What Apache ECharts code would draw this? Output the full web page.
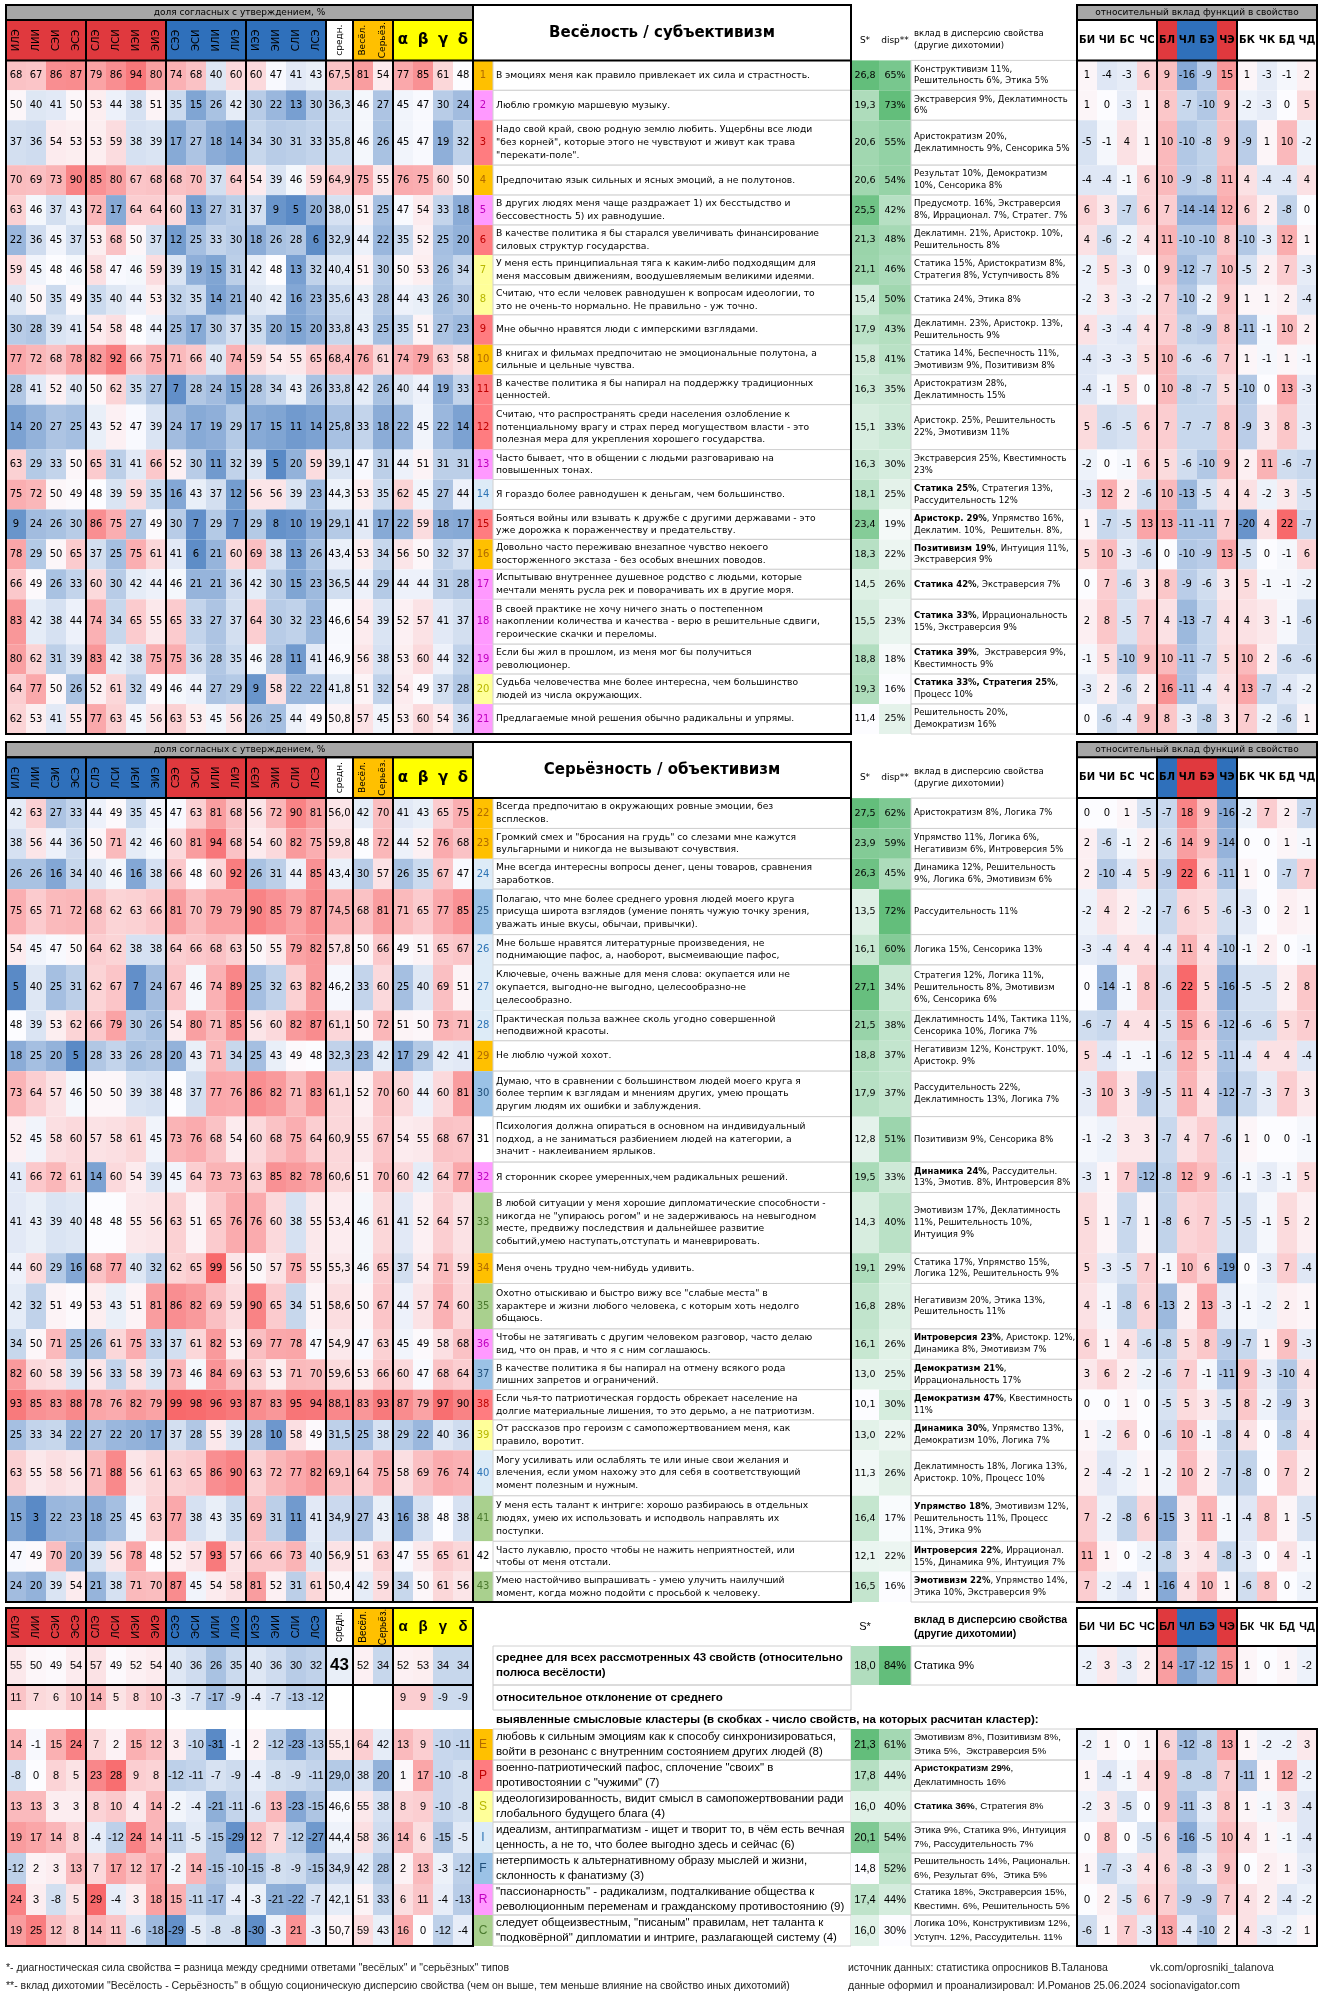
<!DOCTYPE html>
<html><head><meta charset="utf-8">
<script src="https://cdn.jsdelivr.net/npm/echarts@6/dist/echarts.min.js"></script>
<style>html,body{margin:0;background:#fff}#main{width:1321px;height:2001px}</style>
</head><body><div id="main"></div>
<script>
// ---- labels
const types = ['ИЛЭ','ЛИИ','СЭИ','ЭСЭ','СЛЭ','ЛСИ','ИЭИ','ЭИЭ','СЭЭ','ЭСИ','ИЛИ','ЛИЭ','ИЭЭ','ЭИИ','СЛИ','ЛСЭ'];
const funcs = ['БИ','ЧИ','БС','ЧС','БЛ','ЧЛ','БЭ','ЧЭ','БК','ЧК','БД','ЧД'];
const quadras = ['α','β','γ','δ'];

// ---- section 1: Весёлость / субъективизм (statements 1-21)
const sec1Types = [
 [68,67,86,87,79,86,94,80,74,68,40,60,60,47,41,43],
 [50,40,41,50,53,44,38,51,35,15,26,42,30,22,13,30],
 [37,36,54,53,53,59,38,39,17,27,18,14,34,30,31,33],
 [70,69,73,90,85,80,67,68,68,70,37,64,54,39,46,59],
 [63,46,37,43,72,17,64,64,60,13,27,31,37,9,5,20],
 [22,36,45,37,53,68,50,37,12,25,33,30,18,26,28,6],
 [59,45,48,46,58,47,46,59,39,19,15,31,42,48,13,32],
 [40,50,35,49,35,40,44,53,32,35,14,21,40,42,16,23],
 [30,28,39,41,54,58,48,44,25,17,30,37,35,20,15,20],
 [77,72,68,78,82,92,66,75,71,66,40,74,59,54,55,65],
 [28,41,52,40,50,62,35,27,7,28,24,15,28,34,43,26],
 [14,20,27,25,43,52,47,39,24,17,19,29,17,15,11,14],
 [63,29,33,50,65,31,41,66,52,30,11,32,39,5,20,59],
 [75,72,50,49,48,39,59,35,16,43,37,12,56,56,39,23],
 [9,24,26,30,86,75,27,49,30,7,29,7,29,8,10,19],
 [78,29,50,65,37,25,75,61,41,6,21,60,69,38,13,26],
 [66,49,26,33,60,30,42,44,46,21,21,36,42,30,15,23],
 [83,42,38,44,74,34,65,55,65,33,27,37,64,30,32,23],
 [80,62,31,39,83,42,38,75,75,36,28,35,46,28,11,41],
 [64,77,50,26,52,61,32,49,46,44,27,29,9,58,22,22],
 [62,53,41,55,77,63,45,56,63,53,45,56,26,25,44,49]];
const sec1Avg = [67.5,36.3,35.8,64.9,38.0,32.9,40.4,35.6,33.8,68.4,33.8,25.8,39.1,44.3,29.1,43.4,36.5,46.6,46.9,41.8,50.8];
const sec1Temp = [[81,54],[46,27],[46,26],[75,55],[51,25],[44,22],[51,30],[43,28],[43,25],[76,61],[42,26],[33,18],[47,31],[53,35],[41,17],[53,34],[44,29],[54,39],[56,38],[51,32],[57,45]];
const sec1Quadra = [[77,85,61,48],[45,47,30,24],[45,47,19,32],[76,75,60,50],[47,54,33,18],[35,52,25,20],[50,53,26,34],[44,43,26,30],[35,51,27,23],[74,79,63,58],[40,44,19,33],[22,45,22,14],[44,51,31,31],[62,45,27,44],[22,59,18,17],[56,50,32,37],[44,44,31,28],[52,57,41,37],[53,60,44,32],[54,49,37,28],[53,60,54,36]];
const sec1Cluster = ['E','R','P','E','R','P','S','S','P','E','P','P','R','I','P','E','R','R','R','S','R'];
const sec1Text = [
 'В эмоциях меня как правило привлекает их сила и страстность.',
 'Люблю громкую маршевую музыку.',
 'Надо свой край, свою родную землю любить. Ущербны все люди\n"без корней", которые этого не чувствуют и живут как трава\n"перекати-поле".',
 'Предпочитаю язык сильных и ясных эмоций, а не полутонов.',
 'В других людях меня чаще раздражает 1) их бесстыдство и\nбессовестность 5) их равнодушие.',
 'В качестве политика я бы старался увеличивать финансирование\nсиловых структур государства.',
 'У меня есть принципиальная тяга к каким-либо подходящим для\nменя массовым движениям, воодушевляемым великими идеями.',
 'Считаю, что если человек равнодушен к вопросам идеологии, то\nэто не очень-то нормально. Не правильно - уж точно.',
 'Мне обычно нравятся люди с имперскими взглядами.',
 'В книгах и фильмах предпочитаю не эмоциональные полутона, а\nсильные и цельные чувства.',
 'В качестве политика я бы напирал на поддержку традиционных\nценностей.',
 'Считаю, что распространять среди населения озлобление к\nпотенциальному врагу и страх перед могуществом власти - это\nполезная мера для укрепления хорошего государства.',
 'Часто бывает, что в общении с людьми разговариваю на\nповышенных тонах.',
 'Я гораздо более равнодушен к деньгам, чем большинство.',
 'Бояться войны или взывать к дружбе с другими державами - это\nуже дорожка к пораженчеству и предательству.',
 'Довольно часто переживаю внезапное чувство некоего\nвосторженного экстаза - без особых внешних поводов.',
 'Испытываю внутреннее душевное родство с людьми, которые\nмечтали менять русла рек и поворачивать их в другие моря.',
 'В своей практике не хочу ничего знать о постепенном\nнакоплении количества и качества - верю в решительные сдвиги,\nгероические скачки и переломы.',
 'Если бы жил в прошлом, из меня мог бы получиться\nреволюционер.',
 'Судьба человечества мне более интересна, чем большинство\nлюдей из числа окружающих.',
 'Предлагаемые мной решения обычно радикальны и упрямы.'];
const sec1S = [26.8,19.3,20.6,20.6,25.5,21.3,21.1,15.4,17.9,15.8,16.3,15.1,16.3,18.1,23.4,18.3,14.5,15.5,18.8,19.3,11.4];
const sec1Disp = [65,73,55,54,42,48,46,50,43,41,35,33,30,25,19,22,26,23,18,16,25];
const sec1Contrib = [
 'Конструктивизм 11%,\nРешительность 6%, Этика 5%',
 'Экстраверсия 9%, Деклатимность\n6%',
 'Аристократизм 20%,\nДеклатимность 9%, Сенсорика 5%',
 'Результат 10%, Демократизм\n10%, Сенсорика 8%',
 'Предусмотр. 16%, Экстраверсия\n8%, Иррационал. 7%, Стратег. 7%',
 'Деклатимн. 21%, Аристокр. 10%,\nРешительность 8%',
 'Статика 15%, Аристократизм 8%,\nСтратегия 8%, Уступчивость 8%',
 'Статика 24%, Этика 8%',
 'Деклатимн. 23%, Аристокр. 13%,\nРешительность 9%',
 'Статика 14%, Беспечность 11%,\nЭмотивизм 9%, Позитивизм 8%',
 'Аристократизм 28%,\nДеклатимность 15%',
 'Аристокр. 25%, Решительность\n22%, Эмотивизм 11%',
 'Экстраверсия 25%, Квестимность\n23%',
 '**Статика 25%**, Стратегия 13%,\nРассудительность 12%',
 '**Аристокр. 29%**, Упрямство 16%,\nДеклатим. 10%,  Решительн. 8%,',
 '**Позитивизм 19%**, Интуиция 11%,\nЭкстраверсия 9%',
 '**Статика 42%**, Экстраверсия 7%',
 '**Статика 33%**, Иррациональность\n15%, Экстраверсия 9%',
 '**Статика 39%**,  Экстраверсия 9%,\nКвестимность 9%',
 '**Статика 33%, Стратегия 25%**,\nПроцесс 10%',
 'Решительность 20%,\nДемократизм 16%'];
const sec1Func = [
 [1,-4,-3,6,9,-16,-9,15,1,-3,-1,2],[1,0,-3,1,8,-7,-10,9,-2,-3,0,5],[-5,-1,4,1,10,-10,-8,9,-9,1,10,-2],
 [-4,-4,-1,6,10,-9,-8,11,4,-4,-4,4],[6,3,-7,6,7,-14,-14,12,6,2,-8,0],[4,-6,-2,4,11,-10,-10,8,-10,-3,12,1],
 [-2,5,-3,0,9,-12,-7,10,-5,2,7,-3],[-2,3,-3,-2,7,-10,-2,9,1,1,2,-4],[4,-3,-4,4,7,-8,-9,8,-11,-1,10,2],
 [-4,-3,-3,5,10,-6,-6,7,1,-1,1,-1],[-4,-1,5,0,10,-8,-7,5,-10,0,13,-3],[5,-6,-5,6,7,-7,-7,8,-9,3,8,-3],
 [-2,0,-1,6,5,-6,-10,9,2,11,-6,-7],[-3,12,2,-6,10,-13,-5,4,4,-2,3,-5],[1,-7,-5,13,13,-11,-11,7,-20,4,22,-7],
 [5,10,-3,-6,0,-10,-9,13,-5,0,-1,6],[0,7,-6,3,8,-9,-6,3,5,-1,-1,-2],[2,8,-5,7,4,-13,-7,4,4,3,-1,-6],
 [-1,5,-10,9,10,-11,-7,5,10,2,-6,-6],[-3,2,-6,2,16,-11,-4,4,13,-7,-4,-2],[0,-6,-4,9,8,-3,-8,3,7,-2,-6,1]];

// ---- section 2: Серьёзность / объективизм (statements 22-43)
const sec2Types = [
 [42,63,27,33,44,49,35,45,47,63,81,68,56,72,90,81],
 [38,56,44,36,50,71,42,46,60,81,94,68,54,60,82,75],
 [26,26,16,34,40,46,16,38,66,48,60,92,26,31,44,85],
 [75,65,71,72,68,62,63,66,81,70,79,79,90,85,79,87],
 [54,45,47,50,64,62,38,38,64,66,68,63,50,55,79,82],
 [5,40,25,31,62,67,7,24,67,46,74,89,25,32,63,82],
 [48,39,53,62,66,79,30,26,54,80,71,85,56,60,82,87],
 [18,25,20,5,28,33,26,28,20,43,71,34,25,43,49,48],
 [73,64,57,46,50,50,39,38,48,37,77,76,86,82,71,83],
 [52,45,58,60,57,58,61,45,73,76,68,54,60,68,75,64],
 [41,66,72,61,14,60,54,39,45,64,73,73,63,85,82,78],
 [41,43,39,40,48,48,55,56,63,51,65,76,76,60,38,55],
 [44,60,29,16,68,77,40,32,62,65,99,56,50,57,75,55],
 [42,32,51,49,53,43,51,81,86,82,69,59,90,65,34,51],
 [34,50,71,25,26,61,75,33,37,61,82,53,69,77,78,47],
 [82,60,58,39,56,33,58,39,73,46,84,69,63,53,71,70],
 [93,85,83,88,78,76,82,79,99,98,96,93,87,83,95,94],
 [25,33,34,22,27,22,20,17,37,28,55,39,28,10,58,49],
 [63,55,58,56,71,88,56,61,63,65,86,90,63,72,77,82],
 [15,3,22,23,18,25,45,63,77,38,43,35,69,31,11,41],
 [47,49,70,20,39,56,78,48,52,57,93,57,66,66,73,40],
 [24,20,39,54,21,38,71,70,87,45,54,58,81,52,31,61]];
const sec2Avg = [56.0,59.8,43.4,74.5,57.8,46.2,61.1,32.3,61.1,60.9,60.6,53.4,55.3,58.6,54.9,59.6,88.1,31.5,69.1,34.9,56.9,50.4];
const sec2Temp = [[42,70],[48,72],[30,57],[68,81],[50,66],[33,60],[50,72],[23,42],[52,70],[55,67],[51,70],[46,61],[46,65],[50,67],[47,63],[53,66],[83,93],[25,38],[64,75],[27,43],[51,63],[42,59]];
const sec2Quadra = [[41,43,65,75],[44,52,76,68],[26,35,67,47],[71,65,77,85],[49,51,65,67],[25,40,69,51],[51,50,73,71],[17,29,42,41],[60,44,60,81],[54,55,68,67],[60,42,64,77],[41,52,64,57],[37,54,71,59],[44,57,74,60],[45,49,58,68],[60,47,68,64],[87,79,97,90],[29,22,40,36],[58,69,76,74],[16,38,48,38],[47,55,65,61],[34,50,61,56]];
const sec2Cluster = ['E','E','I','F','I','I','I','E','F','','R','C','E','C','R','F','P','S','I','C','','C'];
const sec2Text = [
 'Всегда предпочитаю в окружающих ровные эмоции, без\nвсплесков.',
 'Громкий смех и "бросания на грудь" со слезами мне кажутся\nвульгарными и никогда не вызывают сочувствия.',
 'Мне всегда интересны вопросы денег, цены товаров, сравнения\nзаработков.',
 'Полагаю, что мне более среднего уровня людей моего круга\nприсуща широта взглядов (умение понять чужую точку зрения,\nуважать иные вкусы, обычаи, привычки).',
 'Мне больше нравятся литературные произведения, не\nподнимающие пафос, а, наоборот, высмеивающие пафос,',
 'Ключевые, очень важные для меня слова: окупается или не\nокупается, выгодно-не выгодно, целесообразно-не\nцелесообразно.',
 'Практическая польза важнее сколь угодно совершенной\nнеподвижной красоты.',
 'Не люблю чужой хохот.',
 'Думаю, что в сравнении с большинством людей моего круга я\nболее терпим к взглядам и мнениям других, умею прощать\nдругим людям их ошибки и заблуждения.',
 'Психология должна опираться в основном на индивидуальный\nподход, а не заниматься разбиением людей на категории, а\nзначит - наклеиванием ярлыков.',
 'Я сторонник скорее умеренных,чем радикальных решений.',
 'В любой ситуации у меня хорошие дипломатические способности -\nникогда не "упираюсь рогом" и не задерживаюсь на невыгодном\nместе, предвижу последствия и дальнейшее развитие\nсобытий,умею наступать,отступать и маневрировать.',
 'Меня очень трудно чем-нибудь удивить.',
 'Охотно отыскиваю и быстро вижу все "слабые места" в\nхарактере и жизни любого человека, с которым хоть недолго\nобщаюсь.',
 'Чтобы не затягивать с другим человеком разговор, часто делаю\nвид, что он прав, и что я с ним соглашаюсь.',
 'В качестве политика я бы напирал на отмену всякого рода\nлишних запретов и ограничений.',
 'Если чья-то патриотическая гордость обрекает население на\nдолгие материальные лишения, то это дерьмо, а не патриотизм.',
 'От рассказов про героизм с самопожертвованием меня, как\nправило, воротит.',
 'Могу усиливать или ослаблять те или иные свои желания и\nвлечения, если умом нахожу это для себя в соответствующий\nмомент полезным и нужным.',
 'У меня есть талант к интриге: хорошо разбираюсь в отдельных\nлюдях, умею их использовать и исподволь направлять их\nпоступки.',
 'Часто лукавлю, просто чтобы не нажить неприятностей, или\nчтобы от меня отстали.',
 'Умею настойчиво выпрашивать - умею улучить наилучший\nмомент, когда можно подойти с просьбой к человеку.'];
const sec2S = [27.5,23.9,26.3,13.5,16.1,27.1,21.5,18.8,17.9,12.8,19.5,14.3,19.1,16.8,16.1,13.0,10.1,13.0,11.3,16.4,12.1,16.5];
const sec2Disp = [62,59,45,72,60,34,38,37,37,51,33,40,29,28,26,25,30,22,26,17,22,16];
const sec2Contrib = [
 'Аристократизм 8%, Логика 7%',
 'Упрямство 11%, Логика 6%,\nНегативизм 6%, Интроверсия 5%',
 'Динамика 12%, Решительность\n9%, Логика 6%, Эмотивизм 6%',
 'Рассудительность 11%',
 'Логика 15%, Сенсорика 13%',
 'Стратегия 12%, Логика 11%,\nРешительность 8%, Эмотивизм\n6%, Сенсорика 6%',
 'Деклатимность 14%, Тактика 11%,\nСенсорика 10%, Логика 7%',
 'Негативизм 12%, Конструкт. 10%,\nАристокр. 9%',
 'Рассудительность 22%,\nДеклатимность 13%, Логика 7%',
 'Позитивизм 9%, Сенсорика 8%',
 '**Динамика 24%**, Рассудительн.\n13%, Эмотив. 8%, Интроверсия 8%',
 'Эмотивизм 17%, Деклатимность\n11%, Решительность 10%,\nИнтуиция 9%',
 'Статика 17%, Упрямство 15%,\nЛогика 12%, Решительность 9%',
 'Негативизм 20%, Этика 13%,\nРешительность 11%',
 '**Интроверсия 23%**, Аристокр. 12%,\nДинамика 8%, Эмотивизм 7%',
 '**Демократизм 21%**,\nИррациональность 17%',
 '**Демократизм 47%**, Квестимность\n11%',
 '**Динамика 30%**, Упрямство 13%,\nДемократизм 10%, Логика 7%',
 'Деклатимность 18%, Логика 13%,\nАристокр. 10%, Процесс 10%',
 '**Упрямство 18%**, Эмотивизм 12%,\nРешительность 11%, Процесс\n11%, Этика 9%',
 '**Интроверсия 22%**, Иррационал.\n15%, Динамика 9%, Интуиция 7%',
 '**Эмотивизм 22%**, Упрямство 14%,\nЭтика 10%, Экстраверсия 9%'];
const sec2Func = [
 [0,0,1,-5,-7,18,9,-16,-2,7,2,-7],[2,-6,-1,2,-6,14,9,-14,0,0,1,-1],[2,-10,-4,5,-9,22,6,-11,1,0,-7,7],
 [-2,4,2,-2,-7,6,5,-6,-3,0,2,1],[-3,-4,4,4,-4,11,4,-10,-1,2,0,-1],[0,-14,-1,8,-6,22,5,-16,-5,-5,2,8],
 [-6,-7,4,4,-5,15,6,-12,-6,-6,5,7],[5,-4,-1,-1,-6,12,5,-11,-4,4,4,-4],[-3,10,3,-9,-5,11,4,-12,-7,-3,7,3],
 [-1,-2,3,3,-7,4,7,-6,1,0,0,-1],[-3,1,7,-12,-8,12,9,-6,-1,-3,-1,5],[5,1,-7,1,-8,6,7,-5,-5,-1,5,2],
 [5,-3,-5,7,-1,10,6,-19,0,-3,7,-4],[4,-1,-8,6,-13,2,13,-3,-1,-2,2,1],[6,1,4,-6,-8,5,8,-9,-7,1,9,-3],
 [3,6,2,-2,-6,7,-1,-11,9,-3,-10,4],[0,0,1,0,-5,5,3,-5,8,-2,-9,3],[1,-2,6,0,-6,10,-1,-8,4,0,-8,4],
 [2,-4,-2,1,-2,10,2,-7,-8,0,7,2],[7,-2,-8,6,-15,3,11,-1,-4,8,1,-5],[11,1,0,-2,-8,3,4,-8,-3,0,4,-1],
 [7,-2,-4,1,-16,4,10,1,-6,8,0,-2]];

// ---- summary
const meanTypes = [55,50,49,54,57,49,52,54,40,36,26,35,40,36,30,32];
const meanAvg = 43;
const meanTemp = [52,34];
const meanQuadra = [52,53,34,34];
const meanS = 18.0, meanDisp = 84, meanContrib = 'Статика 9%';
const meanFunc = [-2,3,-3,2,14,-17,-12,15,1,0,1,-2];
const devTypes = [11,7,6,10,14,5,8,10,-3,-7,-17,-9,-4,-7,-13,-12];
const devQuadra = [9,9,-9,-9];

const clLetters = ['E','P','S','I','F','R','C'];
const clText = [
 'любовь к сильным эмоциям как к способу синхронизироваться,\nвойти в резонанс с внутренним состоянием других людей (8)',
 'военно-патриотический пафос, сплочение "своих" в\nпротивостоянии с "чужими" (7)',
 'идеологизированность, видит смысл в самопожертвовании ради\nглобального будущего блага (4)',
 'идеализм, антипрагматизм - ищет и творит то, в чём есть вечная\nценность, а не то, что более выгодно здесь и сейчас (6)',
 'нетерпимость к альтернативному образу мыслей и жизни,\nсклонность к фанатизму (3)',
 '"пассионарность" - радикализм, подталкивание общества к\nреволюционным переменам и гражданскому противостоянию (9)',
 'следует общеизвестным, "писаным" правилам, нет таланта к\n"подковёрной" дипломатии и интриге, разлагающей систему (4)'];
const clTypes = [
 [14,-1,15,24,7,2,15,12,3,-10,-31,-1,2,-12,-23,-13],
 [-8,0,8,5,23,28,9,8,-12,-11,-7,-9,-4,-8,-9,-11],
 [13,13,3,3,8,10,4,14,-2,-4,-21,-11,-6,13,-23,-15],
 [19,17,14,8,-4,-12,24,14,-11,-5,-15,-29,12,7,-12,-27],
 [-12,2,3,13,7,17,12,17,-2,14,-15,-10,-15,-8,-9,-15],
 [24,3,-8,5,29,-4,3,18,15,-11,-17,-4,-3,-21,-22,-7],
 [19,25,12,8,14,11,-6,-18,-29,-5,-8,-8,-30,-3,21,-3]];
const clAvg = [55.1,29.0,46.6,44.4,34.9,42.1,50.7];
const clTemp = [[64,42],[38,20],[55,38],[58,36],[42,28],[51,33],[59,43]];
const clQuadra = [[13,9,-10,-11],[1,17,-10,-8],[8,9,-10,-8],[14,6,-15,-5],[2,13,-3,-12],[6,11,-4,-13],[16,0,-12,-4]];
const clS = [21.3,17.8,16.0,20.1,14.8,17.4,16.0];
const clDisp = [61,44,40,54,52,44,30];
const clContrib = [
 'Эмотивизм 8%, Позитивизм 8%,\nЭтика 5%,  Экстраверсия 5%',
 '**Аристократизм 29%**,\nДеклатимность 16%',
 '**Статика 36%**, Стратегия 8%',
 'Этика 9%, Статика 9%, Интуиция\n7%, Рассудительность 7%',
 'Решительность 14%, Рациональн.\n6%, Результат 6%,  Этика 5%',
 'Статика 18%, Экстраверсия 15%,\nКвестимн. 6%, Решительность 5%',
 'Логика 10%, Конструктивизм 12%,\nУступч. 12%, Рассудительн. 11%'];
const clFunc = [
 [-2,1,0,1,6,-12,-8,13,1,-2,-2,3],[1,-4,-1,4,9,-8,-8,7,-11,1,12,-2],[-2,3,-5,0,9,-11,-3,8,1,-1,3,-4],
 [0,8,0,-5,6,-16,-5,10,4,1,-1,-4],[1,-7,-3,4,6,-8,-3,9,0,2,1,-3],[0,2,-5,6,7,-9,-9,7,4,2,-4,-2],
 [-6,1,7,-3,13,-4,-10,2,4,-3,-2,1]];

// ---- styles
const FONT = '"DejaVu Sans", Verdana, sans-serif';
const NARROW = '"Liberation Sans Narrow", "Liberation Sans", Arial, sans-serif';
const H_RED = '#e0393e', H_BLUE = '#2f70bb', H_ORANGE = '#ffc000', H_YELLOW = '#ffff00', BAND = '#a6a6a6';
const C_BLUE = '#5a8ac6', C_WHITE = '#fcfcff', C_RED = '#f8696b', C_GREEN = '#63be7b';
const clFill = {E:'#ffc000',P:'#ff7c80',S:'#ffff99',I:'#ddebf7',F:'#9bc2e6',R:'#ff99ff',C:'#a9d08e','':'#ffffff'};
const clInk = {E:'#b06a00',P:'#c00000',S:'#b8b800',I:'#2e75b6',F:'#1f4e79',R:'#c000c0',C:'#4b7a2e','':'#000'};

const colW = [].concat(Array(16).fill(20), [27,20,20,20,20,20,20,20,358,28,32,166], Array(12).fill(20));
const colX = [0]; colW.forEach(w => colX.push(colX[colX.length-1] + w));
const TOTAL_X = colX[colX.length-1];

function rgb(h){return [1,3,5].map(i=>parseInt(h.substr(i,2),16));}
function mix(a,b,t){const A=rgb(a),B=rgb(b);return 'rgb('+A.map((v,i)=>Math.round(v+(B[i]-v)*t)).join(',')+')';}
function div(v,lo,mid,hi){return v<mid?mix(C_WHITE,C_BLUE,Math.min(1,(mid-v)/(mid-lo))):mix(C_WHITE,C_RED,Math.min(1,(v-mid)/(hi-mid)));}
const leftScale = v => div(v,5,48,99);
const devScale = v => div(v,-31,0,29);
const funcScale = v => div(v,-22,0,22);
const greenOf = (arr) => { const mn=Math.min(...arr), mx=Math.max(...arr); return v => mix(C_WHITE,C_GREEN,Math.max(0,Math.min(1,(v-mn)/(mx-mn)))); };
const fmt1 = v => v.toFixed(1).replace('.',',');
const rich = s => s.replace(/\*\*(.+?)\*\*/g,'{b|$1}');
const rowWeight = (...t) => { const n = Math.max(...t.map(s=>s.split('\n').length)); return n<=2?1:n*0.5; };

function makeGrid(top,height,ymax){return {top,height,ymax,cells:[],frames:[]};}
function cell(g,c0,c1,y0,y1,o){g.cells.push(Object.assign({x0:colX[c0],x1:colX[c1],y0,y1},o));}
function frame(g,c0,c1,y0,y1){g.frames.push({x0:colX[c0],x1:colX[c1],y0,y1,stroke:'#000',lw:2});}

function header(g,y0,y1,o){
  const fam=o.family, sz=o.size;
  types.forEach((t,i)=>cell(g,i,i+1,y0,y1,{fill:((i<8)===o.firstRed)?H_RED:H_BLUE,text:t,rot:1,size:sz,family:fam}));
  cell(g,16,17,y0,y1,{fill:'#fff',text:'средн.',rot:1,size:sz-1,family:fam});
  ['Весёл.','Серьёз.'].forEach((t,i)=>cell(g,17+i,18+i,y0,y1,{fill:H_ORANGE,text:t,rot:1,size:sz-1,family:fam}));
  quadras.forEach((t,i)=>cell(g,19+i,20+i,y0,y1,{fill:H_YELLOW,text:t,size:15,weight:'bold',family:fam}));
  funcs.forEach((t,i)=>{
    let f='#fff'; if(i>=4&&i<8){const red=(i===4||i===7)===o.firstRed; f=red?H_RED:H_BLUE;}
    cell(g,28+i,29+i,y0,y1,{fill:f,text:t,weight:'bold',size:sz,family:fam});
  });
}

function buildSection(g,d){
  const band=d.band, hEnd=d.hEnd;
  cell(g,0,23,0,band,{fill:BAND,text:'доля согласных с утверждением, %',size:9});
  cell(g,28,40,0,band,{fill:BAND,text:'относительный вклад функций в свойство',size:9});
  header(g,band,hEnd,{firstRed:d.firstRed,size:10,family:FONT});
  cell(g,23,25,0,hEnd,{fill:'#fff',text:d.title,size:15,weight:'bold'});
  cell(g,25,26,band,hEnd,{text:'S*',size:9});
  cell(g,26,27,band,hEnd,{text:'disp**',size:9});
  cell(g,27,28,band,hEnd,{text:'вклад в дисперсию свойства\n(другие дихотомии)',size:8.5,align:'left',lh:12});
  const gS=greenOf(d.S), gD=greenOf(d.disp);
  let y=hEnd;
  d.types.forEach((row,r)=>{
    const y1=y+rowWeight(d.text[r],d.contrib[r]);
    row.forEach((v,i)=>cell(g,i,i+1,y,y1,{fill:leftScale(v),text:v}));
    cell(g,16,17,y,y1,{fill:leftScale(d.avg[r]),text:fmt1(d.avg[r])});
    d.temp[r].forEach((v,i)=>cell(g,17+i,18+i,y,y1,{fill:leftScale(v),text:v}));
    d.quadra[r].forEach((v,i)=>cell(g,19+i,20+i,y,y1,{fill:leftScale(v),text:v}));
    const k=d.cluster[r];
    cell(g,23,24,y,y1,{fill:clFill[k],text:d.num0+r,color:clInk[k],size:10});
    cell(g,24,25,y,y1,{fill:'#fff',stroke:'#d0d0d0',text:d.text[r],align:'left',size:9.2,lh:12.6});
    cell(g,25,26,y,y1,{fill:gS(d.S[r]),text:fmt1(d.S[r]),size:9.5});
    cell(g,26,27,y,y1,{fill:gD(d.disp[r]),text:d.disp[r]+'%',size:9.5});
    cell(g,27,28,y,y1,{fill:'#fff',stroke:'#d0d0d0',text:rich(d.contrib[r]),rich:1,align:'left',size:8.5,lh:11.8});
    d.func[r].forEach((v,i)=>cell(g,28+i,29+i,y,y1,{fill:funcScale(v),text:v}));
    y=y1;
  });
  frame(g,0,23,0,y); frame(g,0,23,band,hEnd);
  [[0,4],[4,8],[8,12],[12,16],[16,17],[17,19],[19,23]].forEach(p=>frame(g,p[0],p[1],band,y));
  frame(g,23,25,0,y); frame(g,23,25,0,hEnd);
  frame(g,28,40,0,y); frame(g,28,40,band,hEnd); frame(g,32,36,band,y);
  return y;
}

function sectionUnits(text,contrib,hEnd){let y=hEnd;text.forEach((t,r)=>y+=rowWeight(t,contrib[r]));return y;}

const s1 = {band:0.5,hEnd:1.85,firstRed:true,title:'Весёлость / субъективизм',num0:1,types:sec1Types,avg:sec1Avg,temp:sec1Temp,quadra:sec1Quadra,cluster:sec1Cluster,text:sec1Text,S:sec1S,disp:sec1Disp,contrib:sec1Contrib,func:sec1Func};
const s2 = {band:0.5,hEnd:1.85,firstRed:false,title:'Серьёзность / объективизм',num0:22,types:sec2Types,avg:sec2Avg,temp:sec2Temp,quadra:sec2Quadra,cluster:sec2Cluster,text:sec2Text,S:sec2S,disp:sec2Disp,contrib:sec2Contrib,func:sec2Func};
const g1 = makeGrid(5,729,sectionUnits(sec1Text,sec1Contrib,s1.hEnd));
const g2 = makeGrid(742,860,sectionUnits(sec2Text,sec2Contrib,s2.hEnd));
buildSection(g1,s1); buildSection(g2,s2);

// ---- summary block (units ~ px)
const bRows = [38,39,25,19].concat(clLetters.map(()=>31));
const bY = [0]; bRows.forEach(h=>bY.push(bY[bY.length-1]+h));
const g3 = makeGrid(1608,bY[bY.length-1],bY[bY.length-1]);
(function(){
  const g=g3, N=11;
  header(g,bY[0],bY[1],{firstRed:true,size:11,family:NARROW});
  cell(g,25,26,bY[0],bY[1],{text:'S*',size:11,family:NARROW});
  cell(g,27,28,bY[0],bY[1],{text:'вклад в дисперсию свойства\n(другие дихотомии)',size:10.5,weight:'bold',family:NARROW,align:'left',lh:14});
  const gS=greenOf(clS.concat([meanS])), gD=greenOf(clDisp.concat([meanDisp]));
  let a=bY[1],b=bY[2];
  meanTypes.forEach((v,i)=>cell(g,i,i+1,a,b,{fill:leftScale(v),text:v,size:N,family:NARROW}));
  cell(g,16,17,a,b,{fill:leftScale(meanAvg),text:meanAvg,size:17,weight:'bold',family:NARROW});
  meanTemp.forEach((v,i)=>cell(g,17+i,18+i,a,b,{fill:leftScale(v),text:v,size:N,family:NARROW}));
  meanQuadra.forEach((v,i)=>cell(g,19+i,20+i,a,b,{fill:leftScale(v),text:v,size:N,family:NARROW}));
  cell(g,24,25,a,b,{stroke:'#d0d0d0',text:'среднее для всех рассмотренных 43 свойств (относительно\nполюса весёлости)',weight:'bold',size:11.5,family:NARROW,align:'left',lh:15});
  cell(g,25,26,a,b,{fill:gS(meanS),text:fmt1(meanS),size:N,family:NARROW});
  cell(g,26,27,a,b,{fill:gD(meanDisp),text:meanDisp+'%',size:N,family:NARROW});
  cell(g,27,28,a,b,{stroke:'#d0d0d0',text:meanContrib,size:N,family:NARROW,align:'left'});
  meanFunc.forEach((v,i)=>cell(g,28+i,29+i,a,b,{fill:funcScale(v),text:v,size:N,family:NARROW}));
  a=bY[2];b=bY[3];
  devTypes.forEach((v,i)=>cell(g,i,i+1,a,b,{fill:devScale(v),text:v,size:N,family:NARROW}));
  devQuadra.forEach((v,i)=>cell(g,19+i,20+i,a,b,{fill:devScale(v),text:v,size:N,family:NARROW}));
  cell(g,24,25,a,b,{stroke:'#d0d0d0',text:'относительное отклонение от среднего',weight:'bold',size:11.5,family:NARROW,align:'left'});
  cell(g,24,28,bY[3],bY[4],{text:'выявленные смысловые кластеры (в скобках - число свойств, на которых расчитан кластер):',weight:'bold',size:11.5,family:NARROW,align:'left'});
  clLetters.forEach((k,r)=>{
    const y0=bY[4+r], y1=bY[5+r];
    clTypes[r].forEach((v,i)=>cell(g,i,i+1,y0,y1,{fill:devScale(v),text:v,size:N,family:NARROW}));
    cell(g,16,17,y0,y1,{fill:leftScale(clAvg[r]),text:fmt1(clAvg[r]),size:N,family:NARROW});
    clTemp[r].forEach((v,i)=>cell(g,17+i,18+i,y0,y1,{fill:leftScale(v),text:v,size:N,family:NARROW}));
    clQuadra[r].forEach((v,i)=>cell(g,19+i,20+i,y0,y1,{fill:devScale(v),text:v,size:N,family:NARROW}));
    cell(g,23,24,y0,y1,{fill:clFill[k],text:k,color:clInk[k],size:12,family:NARROW});
    cell(g,24,25,y0,y1,{stroke:'#d0d0d0',text:clText[r],size:11.5,family:NARROW,align:'left',lh:14.5});
    cell(g,25,26,y0,y1,{fill:gS(clS[r]),text:fmt1(clS[r]),size:N,family:NARROW});
    cell(g,26,27,y0,y1,{fill:gD(clDisp[r]),text:clDisp[r]+'%',size:N,family:NARROW});
    cell(g,27,28,y0,y1,{stroke:'#d0d0d0',text:rich(clContrib[r]),rich:1,size:9.8,family:NARROW,align:'left',lh:14});
    clFunc[r].forEach((v,i)=>cell(g,28+i,29+i,y0,y1,{fill:funcScale(v),text:v,size:N,family:NARROW}));
  });
  const end=bY[bY.length-1];
  frame(g,0,23,0,end); frame(g,0,23,0,bY[1]); frame(g,0,23,0,bY[2]);
  [[0,4],[4,8],[8,12],[12,16],[16,17],[17,19],[19,23]].forEach(p=>frame(g,p[0],p[1],0,end));
  frame(g,28,40,0,bY[2]); frame(g,28,40,0,bY[1]); frame(g,32,36,0,bY[2]);
  frame(g,28,40,bY[4],end); frame(g,32,36,bY[4],end);
})();

// ---- chart
const grids=[g1,g2,g3];
function render(arr){
  return function(params,api){
    const c=arr[api.value(2)];
    const p0=api.coord([c.x0,c.y0]), p1=api.coord([c.x1,c.y1]);
    const w=p1[0]-p0[0], h=p1[1]-p0[1];
    const ch=[];
    if(c.fill||c.stroke) ch.push({type:'rect',shape:{x:p0[0],y:p0[1],width:w,height:h},style:{fill:c.fill||'none',stroke:c.stroke||null,lineWidth:c.lw||1}});
    if(c.text!==undefined&&c.text!==''){
      const left=c.align==='left', fam=c.family||FONT, sz=c.size||10;
      const st={text:String(c.text),fill:c.color||'#000',fontSize:sz,fontFamily:fam,fontWeight:c.weight||'normal',
        align:left?'left':'center',verticalAlign:'middle'};
      if(c.lh) st.lineHeight=c.lh;
      if(c.rich) st.rich={b:{fontWeight:'bold',fontSize:sz,fontFamily:fam,fill:c.color||'#000',lineHeight:c.lh}};
      ch.push({type:'text',x:left?p0[0]+3:p0[0]+w/2,y:p0[1]+h/2,rotation:c.rot?Math.PI/2:0,style:st});
    }
    return {type:'group',children:ch};
  };
}
const series=[];
grids.forEach((g,i)=>{
  series.push({type:'custom',xAxisIndex:i,yAxisIndex:i,clip:false,silent:true,renderItem:render(g.cells),data:g.cells.map((c,k)=>[c.x0,c.y0,k]),z:2});
  series.push({type:'custom',xAxisIndex:i,yAxisIndex:i,clip:false,silent:true,renderItem:render(g.frames),data:g.frames.map((c,k)=>[c.x0,c.y0,k]),z:3});
});
const foot={fontFamily:NARROW,fontSize:10.5,fill:'#222'};
const chart=echarts.init(document.getElementById('main'),null,{renderer:'canvas'});
chart.setOption({
  animation:false,
  backgroundColor:'#fff',
  grid:grids.map(g=>({left:6,width:TOTAL_X,top:g.top,height:g.height})),
  xAxis:grids.map((g,i)=>({type:'value',gridIndex:i,min:0,max:TOTAL_X,show:false})),
  yAxis:grids.map((g,i)=>({type:'value',gridIndex:i,min:0,max:g.ymax,inverse:true,show:false})),
  series:series,
  graphic:[
    {type:'text',left:6,top:1963,style:Object.assign({text:'*- диагностическая сила свойства = разница между средними ответами "весёлых" и "серьёзных" типов'},foot)},
    {type:'text',left:6,top:1981,style:Object.assign({text:'**- вклад дихотомии "Весёлость - Серьёзность" в общую соционическую дисперсию свойства (чем он выше, тем меньше влияние на свойство иных дихотомий)'},foot)},
    {type:'text',left:848,top:1963,style:Object.assign({text:'источник данных: статистика опросников В.Таланова'},foot)},
    {type:'text',left:848,top:1981,style:Object.assign({text:'данные оформил и проанализировал: И.Романов 25.06.2024'},foot)},
    {type:'text',left:1150,top:1963,style:Object.assign({text:'vk.com/oprosniki_talanova'},foot)},
    {type:'text',left:1150,top:1981,style:Object.assign({text:'socionavigator.com'},foot)}
  ]
});
</script></body></html>
